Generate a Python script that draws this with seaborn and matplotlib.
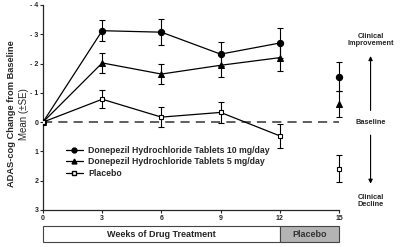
import numpy as np
import pandas as pd
import seaborn as sns
import matplotlib.pyplot as plt
import matplotlib.transforms as mtransforms
from matplotlib.patches import Rectangle
from matplotlib.lines import Line2D

sns.set_style('ticks')
plt.rcParams['font.family'] = ['Liberation Sans', 'DejaVu Sans']
plt.rcParams['font.weight'] = 'bold'

weeks = [0, 3, 6, 9, 12]
mg10 = [0, -3.12, -3.07, -2.32, -2.7]
mg10_se = [0, 0.36, 0.44, 0.41, 0.5]
mg5 = [0, -2.02, -1.64, -1.94, -2.2]
mg5_se = [0, 0.35, 0.34, 0.4, 0.45]
plac = [0, -0.78, -0.17, -0.33, 0.47]
plac_se = [0, 0.3, 0.35, 0.36, 0.41]

wk15 = 15
mg10_15, mg10_15_se = -1.55, 0.5
mg5_15, mg5_15_se = -0.62, 0.43
plac_15, plac_15_se = 1.6, 0.46

names = ['Donepezil Hydrochloride Tablets 10 mg/day',
         'Donepezil Hydrochloride Tablets 5 mg/day',
         'Placebo']

df = pd.DataFrame({'week': weeks * 3,
                   'change': mg10 + mg5 + plac,
                   'group': [names[0]] * 5 + [names[1]] * 5 + [names[2]] * 5})

fig, ax = plt.subplots(figsize=(4, 2.47), dpi=100)
fig.subplots_adjust(left=0.1075, right=0.8475, top=0.98, bottom=0.15)

ax.axhline(0, xmin=0, xmax=1, color='#333333', lw=1.1, ls=(0, (6, 4)), zorder=1)

mk = {names[0]: 'o', names[1]: '^', names[2]: 's'}
sns.lineplot(data=df, x='week', y='change', hue='group', style='group',
             markers=mk, dashes=False, palette=['black'] * 3, lw=0.9,
             markersize=4.5, markeredgecolor='black', ax=ax, legend=False,
             zorder=3)
ax.lines[-1].set_markerfacecolor('white')
ax.lines[-1].set_markersize(3.5)
ax.lines[-1].set_markeredgewidth(0.8)

eb = dict(ecolor='black', elinewidth=0.8, capsize=2.5, capthick=0.8)
for y, e in [(mg10, mg10_se), (mg5, mg5_se), (plac, plac_se)]:
    ax.errorbar(weeks[1:], y[1:], yerr=e[1:], fmt='none', zorder=2, **eb)

pts15 = [(mg10_15, mg10_15_se, 'o', 'black', 4.5),
         (mg5_15, mg5_15_se, '^', 'black', 4.5),
         (plac_15, plac_15_se, 's', 'white', 3.5)]
for y, e, m, fc, ms in pts15:
    c = ax.errorbar([wk15], [y], yerr=[e], fmt=m, color='black', ms=ms,
                    mfc=fc, mew=0.8, zorder=3, **eb)
    for art in c.get_children():
        art.set_clip_on(False)

ax.set_xlim(0, 15)
ax.set_ylim(3, -4)
ax.set_xticks([0, 3, 6, 9, 12, 15])
ax.set_yticks([-4, -3, -2, -1, 0, 1, 2, 3])
ax.set_yticklabels(['- 4', '- 3', '- 2', '- 1', '0', '1', '2', '3'])
ax.tick_params(labelsize=5, length=2.5, width=0.8, pad=0.8)
for s in ['left', 'bottom']:
    ax.spines[s].set_linewidth(0.9)
sns.despine(ax=ax)
ax.set_xlabel('')
ax.set_ylabel('')

fig.text(0.03, 0.54, 'ADAS-cog Change from Baseline', rotation=90,
         ha='center', va='center', fontsize=6.7, fontweight='bold')
fig.text(0.061, 0.54, 'Mean (\u00b1SE)', rotation=90,
         ha='center', va='center', fontsize=7, fontweight='normal')

# legend
handles = [Line2D([], [], color='black', marker='o', ms=3.5, lw=0.9),
           Line2D([], [], color='black', marker='^', ms=3.5, lw=0.9),
           Line2D([], [], color='black', marker='s', ms=3, lw=0.9, mfc='white')]
ax.legend(handles, names, loc='upper left', bbox_to_anchor=(0.065, 0.33),
          frameon=False, fontsize=6.3, handlelength=2.0, handletextpad=0.6,
          labelspacing=0.3, borderaxespad=0)

# treatment boxes below the axis
trans = mtransforms.blended_transform_factory(ax.transData, ax.transAxes)
ax.add_patch(Rectangle((0, -0.158), 12, 0.078, transform=trans, clip_on=False,
                       facecolor='white', edgecolor='#444444', lw=0.8))
ax.add_patch(Rectangle((12, -0.158), 3, 0.078, transform=trans, clip_on=False,
                       facecolor='#b4b4b4', edgecolor='#444444', lw=0.8))
ax.text(6, -0.119, 'Weeks of Drug Treatment', transform=trans, ha='center',
        va='center', fontsize=6.5, fontweight='bold')
ax.text(13.5, -0.119, 'Placebo', transform=trans, ha='center',
        va='center', fontsize=6.5, fontweight='bold', color='#333333')

# right-side annotations
ax.text(16.6, -2.8, 'Clinical\nImprovement', ha='center', va='center',
        fontsize=5.3, fontweight='bold', linespacing=1.05, clip_on=False)
ax.text(16.6, 0, 'Baseline', ha='center', va='center',
        fontsize=5.3, fontweight='bold', clip_on=False)
ax.text(16.6, 2.7, 'Clinical\nDecline', ha='center', va='center',
        fontsize=5.3, fontweight='bold', linespacing=1.05, clip_on=False)
ax.annotate('', xy=(16.6, -2.35), xytext=(16.6, -0.3), annotation_clip=False,
            arrowprops=dict(arrowstyle='-|>', color='black', lw=0.8,
                            mutation_scale=6))
ax.annotate('', xy=(16.6, 2.2), xytext=(16.6, 0.35), annotation_clip=False,
            arrowprops=dict(arrowstyle='-|>', color='black', lw=0.8,
                            mutation_scale=6))

fig.savefig('out.png', dpi=100)
